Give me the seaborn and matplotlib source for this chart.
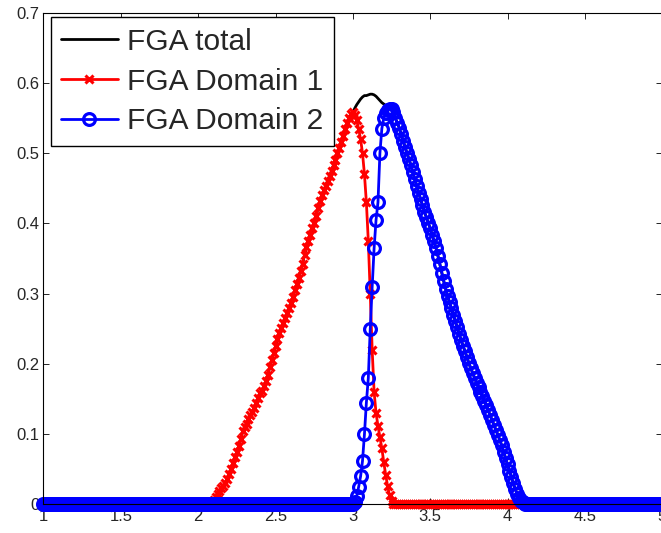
import matplotlib
matplotlib.use("Agg")
import matplotlib.pyplot as plt
import numpy as np
import pandas as pd
import seaborn as sns

# x grid of the samples
x_start = 1.0
x_stop = 5.0
x_step = 0.0125

# non-zero parts of each curve, starting at the given x (zero elsewhere)
red_start = 2.075
red_vals = [0.000, 0.002, 0.006, 0.011, 0.015, 0.019, 0.023, 0.027, 0.031, 0.036,
            0.043, 0.051, 0.059, 0.067, 0.075, 0.083, 0.093, 0.104, 0.110, 0.115,
            0.121, 0.127, 0.132, 0.138, 0.145, 0.152, 0.158, 0.162, 0.168, 0.176,
            0.185, 0.195, 0.205, 0.215, 0.225, 0.236, 0.244, 0.251, 0.258, 0.265,
            0.272, 0.279, 0.287, 0.296, 0.305, 0.314, 0.323, 0.333, 0.343, 0.355,
            0.366, 0.375, 0.384, 0.393, 0.401, 0.411, 0.422, 0.432, 0.440, 0.447,
            0.454, 0.461, 0.468, 0.475, 0.483, 0.491, 0.500, 0.508, 0.516, 0.525,
            0.534, 0.543, 0.550, 0.556, 0.558, 0.555, 0.547, 0.535, 0.520, 0.500,
            0.470, 0.430, 0.375, 0.300, 0.220, 0.160, 0.130, 0.112, 0.096, 0.080,
            0.060, 0.042, 0.026, 0.013, 0.005, 0.001, 0.000]

blue_start = 3.0
blue_vals = [0.000, 0.004, 0.012, 0.025, 0.040, 0.062, 0.100, 0.145, 0.180, 0.250,
             0.310, 0.365, 0.405, 0.430, 0.500, 0.535, 0.550, 0.557, 0.561, 0.563,
             0.563, 0.558, 0.550, 0.543, 0.536, 0.527, 0.518, 0.509, 0.500, 0.492,
             0.483, 0.473, 0.463, 0.454, 0.444, 0.435, 0.426, 0.417, 0.409, 0.401,
             0.393, 0.384, 0.375, 0.365, 0.354, 0.342, 0.330, 0.318, 0.307, 0.297,
             0.288, 0.279, 0.270, 0.261, 0.252, 0.243, 0.234, 0.226, 0.218, 0.210,
             0.201, 0.194, 0.187, 0.180, 0.173, 0.167, 0.160, 0.154, 0.148, 0.141,
             0.134, 0.127, 0.120, 0.113, 0.106, 0.099, 0.092, 0.084, 0.075, 0.066,
             0.057, 0.048, 0.039, 0.030, 0.022, 0.015, 0.009, 0.005, 0.003, 0.001,
             0.000]

total_start = 2.075
total_vals = [0.000, 0.002, 0.006, 0.011, 0.015, 0.019, 0.023, 0.027, 0.031, 0.036,
              0.043, 0.051, 0.059, 0.067, 0.075, 0.083, 0.093, 0.104, 0.110, 0.115,
              0.121, 0.127, 0.132, 0.138, 0.145, 0.152, 0.158, 0.162, 0.168, 0.176,
              0.185, 0.195, 0.205, 0.215, 0.225, 0.236, 0.244, 0.251, 0.258, 0.265,
              0.272, 0.279, 0.287, 0.296, 0.305, 0.314, 0.323, 0.333, 0.343, 0.355,
              0.366, 0.375, 0.384, 0.393, 0.401, 0.411, 0.422, 0.432, 0.440, 0.447,
              0.454, 0.461, 0.468, 0.475, 0.483, 0.491, 0.500, 0.508, 0.516, 0.525,
              0.534, 0.543, 0.550, 0.556,
              0.558, 0.564, 0.569, 0.573, 0.577, 0.580, 0.582, 0.582, 0.583, 0.584,
              0.584, 0.583, 0.581, 0.578, 0.575, 0.572, 0.570, 0.568, 0.566, 0.564,
              0.563, 0.558, 0.550, 0.543, 0.536, 0.527, 0.518, 0.509, 0.500, 0.492,
              0.483, 0.473, 0.463, 0.454, 0.444, 0.435, 0.426, 0.417, 0.409, 0.401,
              0.393, 0.384, 0.375, 0.365, 0.354, 0.342, 0.330, 0.318, 0.307, 0.297,
              0.288, 0.279, 0.270, 0.261, 0.252, 0.243, 0.234, 0.226, 0.218, 0.210,
              0.201, 0.194, 0.187, 0.180, 0.173, 0.167, 0.160, 0.154, 0.148, 0.141,
              0.134, 0.127, 0.120, 0.113, 0.106, 0.099, 0.092, 0.084, 0.075, 0.066,
              0.057, 0.048, 0.039, 0.030, 0.022, 0.015, 0.009, 0.005, 0.003, 0.001,
              0.000]

labels = ["FGA total", "FGA Domain 1", "FGA Domain 2"]
x_ticks = [1, 1.5, 2, 2.5, 3, 3.5, 4, 4.5, 5]
y_ticks = [0, 0.1, 0.2, 0.3, 0.4, 0.5, 0.6, 0.7]

x = np.round(np.arange(x_start, x_stop + x_step / 2, x_step), 5)


def full_series(start, vals):
    y = np.zeros(len(x))
    i0 = int(round((start - x_start) / x_step))
    y[i0:i0 + len(vals)] = vals
    return y


df = pd.DataFrame({
    "x": x,
    "total": full_series(total_start, total_vals),
    "d1": full_series(red_start, red_vals),
    "d2": full_series(blue_start, blue_vals),
})

sns.set_style("ticks")
plt.rcParams["font.family"] = ["Liberation Sans", "DejaVu Sans"]
plt.rcParams["xtick.direction"] = "in"
plt.rcParams["ytick.direction"] = "in"

fig = plt.figure(figsize=(6.61, 5.33), dpi=100)
ax = fig.add_axes([0.0658, 0.0535, 0.936, 0.9227])

sns.lineplot(data=df, x="x", y="total", ax=ax, color="black", lw=2,
             label=labels[0], clip_on=False)
sns.lineplot(data=df, x="x", y="d1", ax=ax, color="red", lw=2, marker="x",
             markersize=5.5, markeredgewidth=2.2, markeredgecolor="red",
             label=labels[1], clip_on=False)
sns.lineplot(data=df, x="x", y="d2", ax=ax, color="blue", lw=2, marker="o",
             markersize=8.5, markeredgewidth=2.3, markerfacecolor="none",
             markeredgecolor="blue", label=labels[2], clip_on=False)

ax.set_xlim(1, 5)
ax.set_ylim(0, 0.7)
ax.set_xticks(x_ticks)
ax.set_xticklabels([f"{t:g}" for t in x_ticks])
ax.set_yticks(y_ticks)
ax.set_yticklabels([f"{t:g}" for t in y_ticks])
ax.set_xlabel("")
ax.set_ylabel("")
ax.tick_params(axis="both", which="both", top=True, right=True, length=4,
               width=0.6, labelsize=12, pad=3, color="black")
for sp in ax.spines.values():
    sp.set_visible(True)
    sp.set_linewidth(0.8)
    sp.set_color("black")

leg = ax.legend(loc="upper left", bbox_to_anchor=(0.0116, 0.991),
                borderaxespad=0, fontsize=21.5, frameon=True, fancybox=False,
                handlelength=1.9, handletextpad=0.3, borderpad=0.35,
                labelspacing=0.4)
leg.get_frame().set_edgecolor("black")
leg.get_frame().set_linewidth(1.0)
leg.get_frame().set_alpha(1)

fig.savefig("out.png", dpi=100)
